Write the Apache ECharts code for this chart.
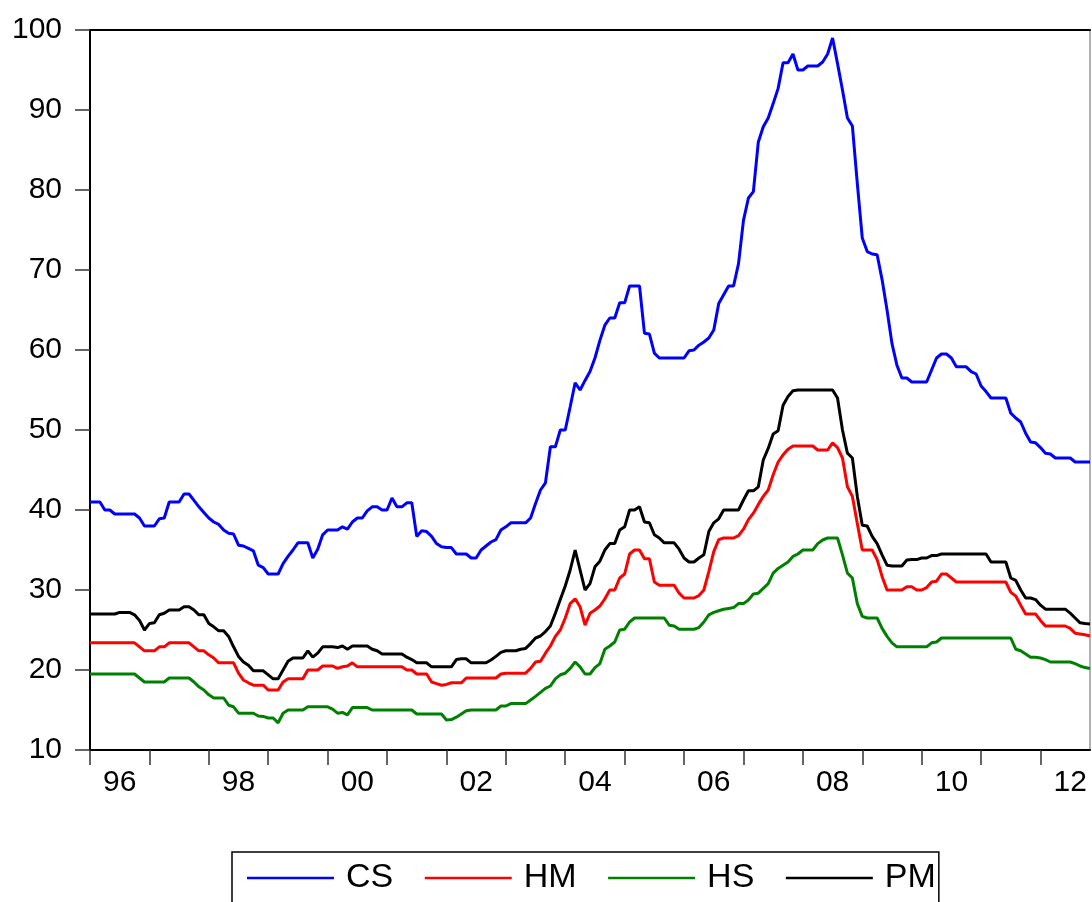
<!DOCTYPE html>
<html><head><meta charset="utf-8">
<script src="https://cdn.jsdelivr.net/npm/echarts@6/dist/echarts.min.js"></script>
<style>html,body{margin:0;padding:0;background:#fff}#c{width:1092px;height:902px}</style>
</head><body><div id="c"></div>
<script>
// Monthly series, 1996-01 .. 2012-11 (203 observations)
const startYear = 1996;
const monthCount = 203;
const seriesNames = ['CS', 'HM', 'HS', 'PM'];
const seriesColors = ['#0000FF', '#FF0000', '#008000', '#000000'];
const yTicks = [10, 20, 30, 40, 50, 60, 70, 80, 90, 100];

const CS = [
41,41,41,40,40,39.5,39.5,39.5,39.5,39.5,39,38,
38,38,38.9,39,41,41,41,42,42,41.2,40.4,39.7,
39,38.5,38.2,37.5,37.1,37,35.6,35.5,35.2,34.9,33.1,32.8,
32,32,32,33.3,34.2,35,35.9,35.9,35.9,34,35.1,36.9,
37.5,37.5,37.5,37.9,37.6,38.5,39,39,39.9,40.4,40.4,40,
40,41.5,40.4,40.4,40.9,40.9,36.7,37.4,37.3,36.7,35.8,35.4,
35.3,35.3,34.5,34.5,34.5,34,34,35,35.5,36,36.3,37.5,
37.9,38.4,38.4,38.4,38.4,39,40.8,42.5,43.4,47.9,47.9,50,
50,52.9,55.9,55,56.2,57.3,59,61.2,63.1,64,64,65.9,
65.9,68,68,68,62.1,62,59.6,59,59,59,59,59,
59,59.9,60,60.6,61,61.5,62.5,65.8,66.9,68,68,70.8,
76.2,79,79.8,86,87.9,89,90.8,92.7,95.9,95.9,97,95,
95,95.5,95.5,95.5,96,97,99,95.8,92.5,89,88,80.8,
74,72.3,72,71.9,68.8,65,60.8,58.1,56.5,56.5,56,56,
56,56,57.5,59,59.5,59.5,59,57.9,57.9,57.9,57.3,57,
55.5,54.8,54,54,54,54,52.1,51.5,51,49.6,48.5,48.4,
47.8,47.1,47,46.5,46.5,46.5,46.5,46,46,46,46
];

const HM = [
23.4,23.4,23.4,23.4,23.4,23.4,23.4,23.4,23.4,23.4,22.9,22.4,
22.4,22.4,22.9,22.9,23.4,23.4,23.4,23.4,23.4,22.9,22.4,22.4,
21.9,21.5,20.9,20.9,20.9,20.9,19.6,18.75,18.4,18.1,18.1,18.1,
17.5,17.5,17.5,18.5,18.9,18.9,18.9,18.9,20,20,20,20.5,
20.5,20.5,20.2,20.4,20.5,20.9,20.4,20.4,20.4,20.4,20.4,20.4,
20.4,20.4,20.4,20.4,20,20,19.5,19.5,19.5,18.5,18.3,18.1,
18.2,18.4,18.4,18.4,19,19,19,19,19,19,19,19.5,
19.6,19.6,19.6,19.6,19.6,20.2,21,21.1,22.1,23,24.2,25,
26.5,28.3,28.9,27.9,25.6,27.1,27.5,28,28.9,30,30,31.5,
32,34.5,35,35,33.9,33.9,31,30.6,30.6,30.6,30.6,29.6,
29,29,29,29.3,30,32.3,34.8,36.3,36.5,36.5,36.5,36.8,
37.6,38.8,39.6,40.7,41.7,42.5,44.4,46,46.9,47.6,48,48,
48,48,48,47.5,47.5,47.5,48.4,47.8,46.5,42.9,41.7,38.3,
35,35,35,33.8,31.7,30,30,30,30,30.4,30.4,30,
30,30.3,31,31.1,32,32,31.5,31,31,31,31,31,
31,31,31,31,31,31,29.7,29.25,28.1,27,27,27,
26.2,25.5,25.5,25.5,25.5,25.5,25.2,24.6,24.5,24.4,24.25
];

const HS = [
19.5,19.5,19.5,19.5,19.5,19.5,19.5,19.5,19.5,19.5,19,18.5,
18.5,18.5,18.5,18.5,19,19,19,19,19,18.5,17.9,17.5,
16.9,16.5,16.5,16.5,15.6,15.4,14.6,14.6,14.6,14.6,14.25,14.2,
14,14,13.4,14.6,15,15,15,15,15.4,15.4,15.4,15.4,
15.4,15.1,14.6,14.7,14.4,15.3,15.3,15.3,15.3,15,15,15,
15,15,15,15,15,15,14.5,14.5,14.5,14.5,14.5,14.5,
13.75,13.8,14.1,14.5,14.9,15,15,15,15,15,15,15.5,
15.5,15.8,15.8,15.8,15.8,16.25,16.7,17.2,17.7,18,18.9,19.4,
19.6,20.2,21,20.4,19.5,19.5,20.3,20.8,22.6,23,23.5,25,
25.1,26,26.5,26.5,26.5,26.5,26.5,26.5,26.5,25.6,25.5,25.1,
25.1,25.1,25.1,25.3,26,26.9,27.2,27.4,27.6,27.7,27.8,28.3,
28.3,28.75,29.5,29.6,30.2,30.8,32.1,32.7,33.1,33.5,34.2,34.5,
35,35,35,35.8,36.25,36.5,36.5,36.5,34.4,32.1,31.5,28.3,
26.7,26.5,26.5,26.5,25.2,24.2,23.4,22.9,22.9,22.9,22.9,22.9,
22.9,22.9,23.4,23.5,24,24,24,24,24,24,24,24,
24,24,24,24,24,24,24,22.6,22.4,22,21.6,21.6,
21.5,21.3,21,21,21,21,21,20.8,20.5,20.3,20.2
];

const PM = [
27,27,27,27,27,27,27.2,27.2,27.2,26.9,26.2,25,
25.8,25.9,26.9,27.1,27.5,27.5,27.5,27.9,27.9,27.5,26.9,26.9,
25.8,25.4,24.9,24.9,24.2,22.9,21.7,21,20.6,19.9,19.9,19.9,
19.4,18.9,18.9,20,21.1,21.5,21.5,21.5,22.4,21.6,22.1,22.9,
22.9,22.9,22.8,23,22.6,23,23,23,23,22.6,22.4,22,
22,22,22,22,21.6,21.3,20.9,20.9,20.9,20.4,20.4,20.4,
20.4,20.4,21.3,21.4,21.4,20.9,20.9,20.9,20.9,21.25,21.7,22.2,
22.4,22.4,22.4,22.6,22.7,23.3,24,24.25,24.8,25.5,27.1,28.8,
30.5,32.5,35,32.5,30,30.8,32.9,33.6,35,35.8,35.8,37.5,
37.9,40,40,40.4,38.5,38.4,36.9,36.5,35.9,35.9,35.9,35.1,
34,33.5,33.5,34,34.4,37.3,38.4,38.9,40,40,40,40,
41.25,42.4,42.4,42.9,46.25,47.7,49.5,49.9,53.1,54.2,54.9,55,
55,55,55,55,55,55,55,54,50,47.1,46.5,41.7,
38.1,38,36.7,35.8,34.4,33.1,33,33,33,33.75,33.8,33.8,
34,34,34.3,34.3,34.5,34.5,34.5,34.5,34.5,34.5,34.5,34.5,
34.5,34.5,33.5,33.5,33.5,33.5,31.5,31.2,30,29,29,28.8,
28.1,27.6,27.6,27.6,27.6,27.6,27.1,26.5,25.9,25.8,25.75
];

const seriesData = [CS, HM, HS, PM];

const months = [];
for (let i = 0; i < monthCount; i++) {
  const y = startYear + Math.floor(i / 12);
  const m = (i % 12) + 1;
  months.push(y + '-' + String(m).padStart(2, '0'));
}

const FONT = '"Liberation Sans", Arial, Helvetica, sans-serif';
const chart = echarts.init(document.getElementById('c'), null, {renderer: 'canvas'});

chart.setOption({
  animation: false,
  backgroundColor: '#ffffff',
  grid: {left: 90, top: 30, width: 1000, height: 720, containLabel: false},
  legend: {
    data: seriesNames,
    left: 232, top: 852,
    orient: 'horizontal',
    icon: 'rect',
    itemWidth: 87, itemHeight: 2.5,
    itemGap: 31.5,
    padding: [9, 3, 12, 15],
    borderColor: '#000', borderWidth: 1.5,
    textStyle: {fontFamily: FONT, fontSize: 34, color: '#000', padding: [0, 0, 0, 7]}
  },
  xAxis: [{
    type: 'category',
    data: months,
    boundaryGap: false,
    axisLine: {show: true, lineStyle: {color: '#000', width: 2}},
    axisTick: {show: true, length: 15, interval: (i) => i % 12 === 0, lineStyle: {color: '#333', width: 1.5}},
    axisLabel: {
      show: true,
      interval: (i) => i % 24 === 6,
      formatter: (v) => v.slice(2, 4),
      fontFamily: FONT, fontSize: 30, color: '#000', margin: 18
    },
    splitLine: {show: false}
  }, {
    type: 'category', data: months, boundaryGap: false, position: 'top',
    axisLine: {show: true, lineStyle: {color: '#000', width: 2}},
    axisTick: {show: false}, axisLabel: {show: false}, splitLine: {show: false}
  }],
  yAxis: [{
    type: 'value', min: 10, max: 100, interval: 10,
    axisLine: {show: true, lineStyle: {color: '#000', width: 2}},
    axisTick: {show: true, length: 15, lineStyle: {color: '#333', width: 1.5}},
    axisLabel: {fontFamily: FONT, fontSize: 30, color: '#000', margin: 28},
    splitLine: {show: false}
  }, {
    type: 'value', min: 10, max: 100, interval: 10, position: 'right',
    axisLine: {show: true, lineStyle: {color: '#999', width: 1.5}},
    axisTick: {show: false}, axisLabel: {show: false}, splitLine: {show: false}
  }],
  series: seriesNames.map((name, k) => ({
    name: name,
    type: 'line',
    xAxisIndex: 0, yAxisIndex: 0,
    data: seriesData[k],
    symbol: 'none',
    smooth: false,
    lineStyle: {color: seriesColors[k], width: 3},
    itemStyle: {color: seriesColors[k]},
    z: 2 + k
  }))
});
</script>
</body></html>
